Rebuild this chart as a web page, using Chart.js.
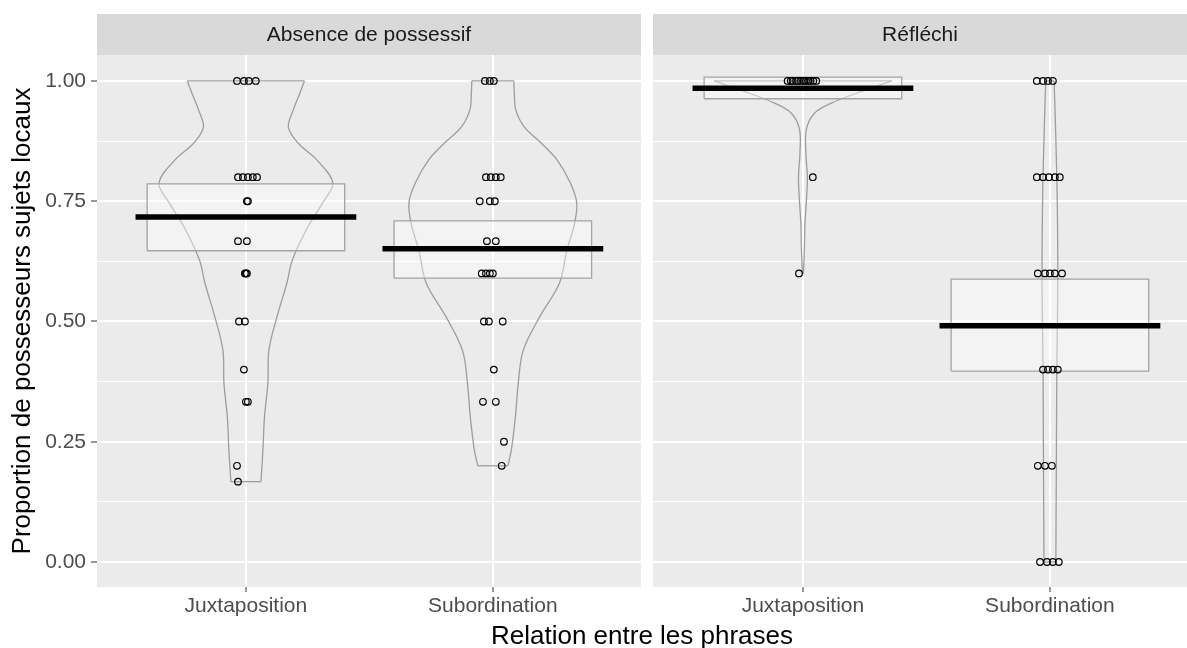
<!DOCTYPE html>
<html>
<head>
<meta charset="utf-8">
<script src="https://cdn.jsdelivr.net/npm/chart.js@4/dist/chart.umd.min.js"></script>
<style>
  body { margin: 0; background: #fff; width: 1187px; height: 648px; position: relative; overflow: hidden; font-family: "Liberation Sans", Arial, sans-serif; }
  #left { position: absolute; left: 0; top: 0; width: 641px; height: 648px; }
  #right { position: absolute; left: 653px; top: 0; width: 534px; height: 648px; }
  #xtitle { position: absolute; left: 97px; width: 1090px; top: 620px; line-height: 30px; text-align: center; font-size: 26px; color: #000; }
</style>
</head>
<body>
<div id="left"><canvas id="c1"></canvas></div>
<div id="right"><canvas id="c2"></canvas></div>
<div id="xtitle">Relation entre les phrases</div>
<script>
const categories = ['Juxtaposition', 'Subordination'];
const facets = ['Absence de possessif', 'Réfléchi'];
const yTicks = [0, 0.125, 0.25, 0.375, 0.5, 0.625, 0.75, 0.875, 1];

// jittered points: value + horizontal jitter (category units)
const absJuxY = [1, 1, 1, 1, 0.8, 0.8, 0.8, 0.8, 0.8, 0.75, 0.75, 0.667, 0.667, 0.6, 0.6, 0.6, 0.5, 0.5, 0.4, 0.333, 0.333, 0.2, 0.167];
const absJuxDx = [-0.036, -0.008, 0.012, 0.04, -0.032, -0.012, 0.008, 0.028, 0.045, 0.004, 0.008, -0.032, 0.004, -0.004, 0, 0.004, -0.028, -0.004, -0.008, 0, 0.008, -0.036, -0.032];
const absSubY = [1, 1, 1, 0.8, 0.8, 0.8, 0.8, 0.75, 0.75, 0.75, 0.667, 0.667, 0.6, 0.6, 0.6, 0.6, 0.5, 0.5, 0.5, 0.4, 0.333, 0.333, 0.25, 0.2];
const absSubDx = [-0.032, -0.012, 0.004, -0.028, -0.008, 0.012, 0.032, -0.053, -0.012, 0.008, -0.024, 0.012, -0.045, -0.028, -0.012, 0, -0.036, -0.016, 0.04, 0.004, -0.04, 0.012, 0.045, 0.036];
const refJuxY = [1, 1, 1, 1, 1, 1, 1, 1, 1, 1, 1, 1, 0.8, 0.6];
const refJuxDx = [-0.062, -0.049, -0.041, -0.028, -0.02, -0.008, 0.003, 0.012, 0.022, 0.031, 0.042, 0.054, 0.04, -0.016];
const refSubY = [1, 1, 1, 1, 0.8, 0.8, 0.8, 0.8, 0.8, 0.6, 0.6, 0.6, 0.6, 0.6, 0.4, 0.4, 0.4, 0.4, 0.2, 0.2, 0.2, 0, 0, 0, 0];
const refSubDx = [-0.053, -0.028, -0.008, 0.012, -0.053, -0.028, -0.004, 0.02, 0.04, -0.049, -0.02, 0, 0.02, 0.049, -0.028, -0.008, 0.012, 0.032, -0.049, -0.02, 0.008, -0.04, -0.012, 0.012, 0.036];

// violin outlines: levels and half widths
const absJuxVioY = [0.167, 0.233, 0.3, 0.372, 0.44, 0.51, 0.58, 0.628, 0.697, 0.746, 0.788, 0.836, 0.871, 0.904, 0.94, 0.975, 1];
const absJuxVioW = [0.061, 0.069, 0.075, 0.089, 0.093, 0.126, 0.166, 0.188, 0.251, 0.31, 0.352, 0.287, 0.211, 0.172, 0.192, 0.219, 0.237];
const absSubVioY = [0.2, 0.233, 0.3, 0.372, 0.44, 0.51, 0.58, 0.649, 0.697, 0.746, 0.788, 0.836, 0.871, 0.904, 0.94, 0.975, 1];
const absSubVioW = [0.061, 0.075, 0.091, 0.103, 0.123, 0.19, 0.27, 0.3, 0.328, 0.34, 0.314, 0.26, 0.196, 0.128, 0.093, 0.087, 0.085];
const refJuxVioY = [0.6, 0.65, 0.7, 0.75, 0.8, 0.85, 0.9, 0.933, 0.954, 0.975, 1];
const refJuxVioW = [0.002, 0.006, 0.008, 0.014, 0.018, 0.012, 0.014, 0.047, 0.115, 0.22, 0.36];
const refSubVioY = [0, 0.2, 0.4, 0.6, 0.8, 1];
const refSubVioW = [0.024, 0.026, 0.028, 0.032, 0.028, 0.017];

// boxes and centre lines
const absBoxLow = [0.647, 0.59];
const absBoxHigh = [0.786, 0.709];
const absMid = [0.717, 0.651];
const refBoxLow = [0.963, 0.397];
const refBoxHigh = [1.008, 0.588];
const refMid = [0.985, 0.491];

const BOX_W = 0.4;
const MID_W = 0.447;
const GREY = '#9d9d9d';
const FONT = '"Liberation Sans", Arial, sans-serif';

function groupDatasets(x, ys, dxs, vy, vw, low, high, mid) {
  const out = [];
  const line = (data, extra) => Object.assign({
    data, showLine: true, pointRadius: 0, borderColor: GREY, borderWidth: 1.3, fill: false, tension: 0
  }, extra);
  // violin
  out.push(line(vy.map((v, i) => ({ x: x + vw[i], y: v })), { tension: 0.35, order: 4 }));
  out.push(line(vy.map((v, i) => ({ x: x - vw[i], y: v })), { tension: 0.35, order: 4 }));
  const n = vy.length - 1;
  out.push(line([{ x: x - vw[n], y: vy[n] }, { x: x + vw[n], y: vy[n] }], { order: 4 }));
  out.push(line([{ x: x - vw[0], y: vy[0] }, { x: x + vw[0], y: vy[0] }], { order: 4 }));
  // box
  out.push(line([
    { x: x - BOX_W, y: low }, { x: x + BOX_W, y: low }, { x: x + BOX_W, y: high },
    { x: x - BOX_W, y: high }, { x: x - BOX_W, y: low }
  ], { fill: 'shape', backgroundColor: 'rgba(255,255,255,0.4)', borderColor: '#a3a3a3', order: 3 }));
  // centre line
  out.push(line([{ x: x - MID_W, y: mid }, { x: x + MID_W, y: mid }], { borderColor: '#000', borderWidth: 5.5, order: 2 }));
  // points
  out.push({
    data: ys.map((v, i) => ({ x: x + dxs[i], y: v })),
    pointRadius: 3.3, pointBorderWidth: 1.2, pointBorderColor: '#000', pointBackgroundColor: 'rgba(0,0,0,0)', order: 1
  });
  return out;
}

const panelPlugin = {
  id: 'panel',
  beforeDraw(chart, args, opts) {
    const { ctx, chartArea: a } = chart;
    ctx.save();
    ctx.fillStyle = '#ebebeb';
    ctx.fillRect(a.left, a.top, a.right - a.left, a.bottom - a.top);
    ctx.fillStyle = '#d9d9d9';
    ctx.fillRect(a.left, 14, a.right - a.left, 41);
    ctx.fillStyle = '#1a1a1a';
    ctx.font = '21px ' + FONT;
    ctx.textAlign = 'center';
    ctx.textBaseline = 'middle';
    ctx.fillText(opts.label, (a.left + a.right) / 2, 35);
    ctx.restore();
  }
};

const isMajor = (v) => Math.abs(v * 4 - Math.round(v * 4)) < 1e-6;

function makeChart(el, label, xMin, xMax, datasets, showY) {
  return new Chart(el, {
    type: 'scatter',
    data: { datasets },
    plugins: [panelPlugin],
    options: {
      responsive: true,
      maintainAspectRatio: false,
      animation: false,
      layout: { autoPadding: false, padding: { top: 55, left: 0, right: 0, bottom: 0 } },
      plugins: { legend: { display: false }, tooltip: { enabled: false }, panel: { label } },
      scales: {
        x: {
          type: 'linear', min: xMin, max: xMax,
          afterBuildTicks: (s) => { s.ticks = [{ value: 1 }, { value: 2 }]; },
          afterFit: (s) => { s.height = 61; },
          border: { display: false },
          grid: { color: '#fff', lineWidth: 2, tickColor: '#333', tickLength: 5, tickWidth: 1 },
          ticks: {
            autoSkip: false, maxRotation: 0, padding: 2, color: '#4d4d4d',
            font: { family: FONT, size: 21 },
            callback: (v) => categories[v - 1]
          }
        },
        y: {
          type: 'linear', min: -0.052, max: 1.054,
          afterBuildTicks: (s) => { s.ticks = yTicks.map((v) => ({ value: v })); },
          afterFit: (s) => { s.width = showY ? 97 : 0; },
          border: { display: false },
          grid: {
            color: '#fff',
            lineWidth: (c) => (isMajor(c.tick.value) ? 2 : 1),
            drawTicks: showY,
            tickLength: 6,
            tickWidth: 1,
            tickColor: (c) => (isMajor(c.tick.value) ? '#333' : 'rgba(0,0,0,0)')
          },
          ticks: {
            display: showY, autoSkip: false, padding: 5, color: '#4d4d4d',
            font: { family: FONT, size: 21 },
            callback: (v) => (isMajor(v) ? v.toFixed(2) : '')
          },
          title: {
            display: showY, text: 'Proportion de possesseurs sujets locaux', color: '#000',
            font: { family: FONT, size: 26 },
            padding: { top: 7, bottom: 0 }
          }
        }
      }
    }
  });
}

const leftSets = [].concat(
  groupDatasets(1, absJuxY, absJuxDx, absJuxVioY, absJuxVioW, absBoxLow[0], absBoxHigh[0], absMid[0]),
  groupDatasets(2, absSubY, absSubDx, absSubVioY, absSubVioW, absBoxLow[1], absBoxHigh[1], absMid[1])
);
const rightSets = [].concat(
  groupDatasets(1, refJuxY, refJuxDx, refJuxVioY, refJuxVioW, refBoxLow[0], refBoxHigh[0], refMid[0]),
  groupDatasets(2, refSubY, refSubDx, refSubVioY, refSubVioW, refBoxLow[1], refBoxHigh[1], refMid[1])
);

makeChart(document.getElementById('c1'), facets[0], 0.397, 2.6, leftSets, true);
makeChart(document.getElementById('c2'), facets[1], 0.393, 2.555, rightSets, false);
</script>
</body>
</html>
